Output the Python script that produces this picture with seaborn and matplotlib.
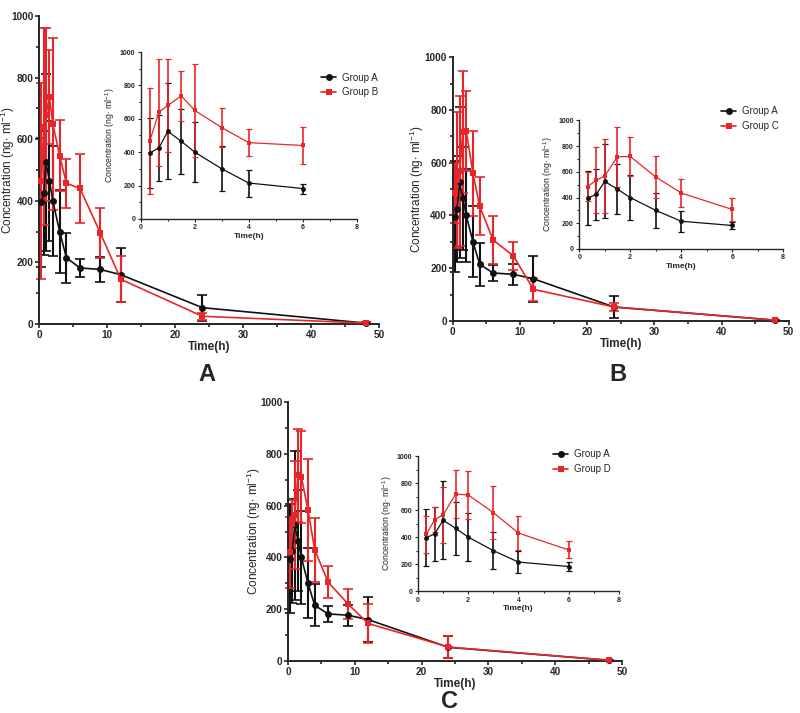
import numpy as np
import pandas as pd
import matplotlib
matplotlib.use("Agg")
import matplotlib.pyplot as plt
import seaborn as sns
from matplotlib.ticker import MultipleLocator

# sampling times (h)
time_h = [0.33, 0.67, 1, 1.5, 2, 3, 4, 6, 9, 12, 24, 48]

# mean +/- SD concentrations (ng/ml)
group_a_mean = [395, 425, 525, 465, 400, 300, 215, 182, 177, 160, 53, 3]
group_a_sd = [210, 200, 288, 195, 178, 135, 81, 30, 40, 88, 42, 2]
group_b_mean = [465, 640, 680, 737, 650, 547, 457, 440, 295, 145, 25, 3]
group_b_sd = [318, 320, 280, 152, 280, 115, 80, 113, 81, 75, 12, 2]
group_c_mean = [485, 535, 568, 717, 720, 560, 435, 307, 247, 120, 53, 3]
group_c_sd = [114, 257, 285, 232, 153, 162, 110, 90, 52, 44, 17, 2]
group_d_mean = [420, 530, 565, 718, 712, 582, 430, 305, 220, 145, 54, 3]
group_d_sd = [138, 93, 208, 180, 177, 197, 123, 63, 58, 76, 43, 2]

panel_letters = ["A", "B", "C"]
compare_groups = ["Group B", "Group C", "Group D"]

sns.set_style("ticks")
plt.rcParams["font.family"] = ["Liberation Sans", "DejaVu Sans"]
plt.rcParams["mathtext.fontset"] = "custom"
plt.rcParams["mathtext.rm"] = "Liberation Sans"
plt.rcParams["mathtext.default"] = "regular"

BLACK = "#111111"
RED = "#e8262a"
YLABEL = "Concentration (ng$\\cdot$ ml$^{-1}$)"


def build_df(mean2, sd2, name2, tmax):
    rows = []
    for name, mean, sd in [("Group A", group_a_mean, group_a_sd), (name2, mean2, sd2)]:
        for t, m, s in zip(time_h, mean, sd):
            if t <= tmax:
                rows.append({"Time": t, "Conc": m, "SD": s, "Group": name})
    return pd.DataFrame(rows)


def draw(ax, df, name2, inset=False, ylab_x=None):
    lw = 0.9 if inset else 1.2
    ms = 3.5 if inset else 5
    palette = {"Group A": BLACK, name2: RED}
    for grp in ["Group A", name2]:
        sub = df[df["Group"] == grp]
        ax.errorbar(sub["Time"], sub["Conc"], yerr=sub["SD"], fmt="none",
                    ecolor=palette[grp], elinewidth=lw + 0.3,
                    capsize=2.5 if inset else 3.5, capthick=lw, clip_on=False,
                    zorder=2)
    sns.lineplot(data=df, x="Time", y="Conc", hue="Group", style="Group",
                 markers={"Group A": "o", name2: "s"}, dashes=False,
                 palette=palette, hue_order=["Group A", name2],
                 linewidth=lw, markersize=ms, markeredgewidth=0,
                 ax=ax, clip_on=False, zorder=3, legend=inset)
    ax.set_ylim(0, 1000)
    ax.yaxis.set_major_locator(MultipleLocator(200))
    ax.yaxis.set_minor_locator(MultipleLocator(100))
    sns.despine(ax=ax)
    for sp in ax.spines.values():
        sp.set_linewidth(1.0 if inset else 1.4)
    if inset:
        ax.set_xlim(0, 8)
        ax.xaxis.set_major_locator(MultipleLocator(2))
        ax.xaxis.set_minor_locator(MultipleLocator(1))
        ax.tick_params(which="both", labelsize=5, length=2.5, width=0.8, pad=1.5)
        ax.tick_params(which="minor", length=1.5)
        ax.set_xlabel("Time(h)", fontsize=6, fontweight="bold", labelpad=1)
        ax.set_ylabel(YLABEL, fontsize=6.3, labelpad=2)
    else:
        ax.set_xlim(0, 50)
        ax.xaxis.set_major_locator(MultipleLocator(10))
        ax.xaxis.set_minor_locator(MultipleLocator(5))
        ax.tick_params(which="both", labelsize=7.2, length=3, width=1.2, pad=1)
        ax.tick_params(which="minor", length=2)
        ax.set_xlabel("Time(h)", fontsize=8.5, fontweight="bold", labelpad=1)
        ax.set_ylabel(YLABEL, fontsize=8.5)
        ax.yaxis.set_label_coords(ylab_x, 0.5)
    for lab in ax.get_xticklabels() + ax.get_yticklabels():
        lab.set_fontweight("bold")


fig = plt.figure(figsize=(8, 7.13), dpi=100)

main_boxes = [[0.049, 0.5456, 0.425, 0.432],
              [0.566, 0.5498, 0.420, 0.370],
              [0.360, 0.0729, 0.4175, 0.363]]
ylabel_x = [-0.064, -0.08, -0.075]
inset_boxes = [[0.176, 0.693, 0.270, 0.234],
               [0.724, 0.651, 0.255, 0.180],
               [0.5225, 0.171, 0.251, 0.1893]]
legend_anchor = [(0.395, 0.905), (0.895, 0.858), (0.685, 0.377)]
letter_pos = [(0.259, 0.475), (0.772, 0.475), (0.5625, 0.016)]

series = [(group_b_mean, group_b_sd), (group_c_mean, group_c_sd), (group_d_mean, group_d_sd)]

for i, (mean2, sd2) in enumerate(series):
    name2 = compare_groups[i]
    ax = fig.add_axes(main_boxes[i])
    draw(ax, build_df(mean2, sd2, name2, 48), name2, ylab_x=ylabel_x[i])

    axi = fig.add_axes(inset_boxes[i])
    draw(axi, build_df(mean2, sd2, name2, 6), name2, inset=True)
    leg = axi.legend(loc="upper left", bbox_to_anchor=legend_anchor[i],
                     bbox_transform=fig.transFigure, frameon=False,
                     fontsize=7, handlelength=1.6, handletextpad=0.6,
                     labelspacing=0.5, borderpad=0)
    for h in leg.legend_handles:
        h.set_markersize(5)
        h.set_linewidth(1.2)

    fig.text(letter_pos[i][0], letter_pos[i][1], panel_letters[i],
             fontsize=17, fontweight="bold", ha="center", va="center")

fig.savefig("out.png", dpi=100, facecolor="white")
